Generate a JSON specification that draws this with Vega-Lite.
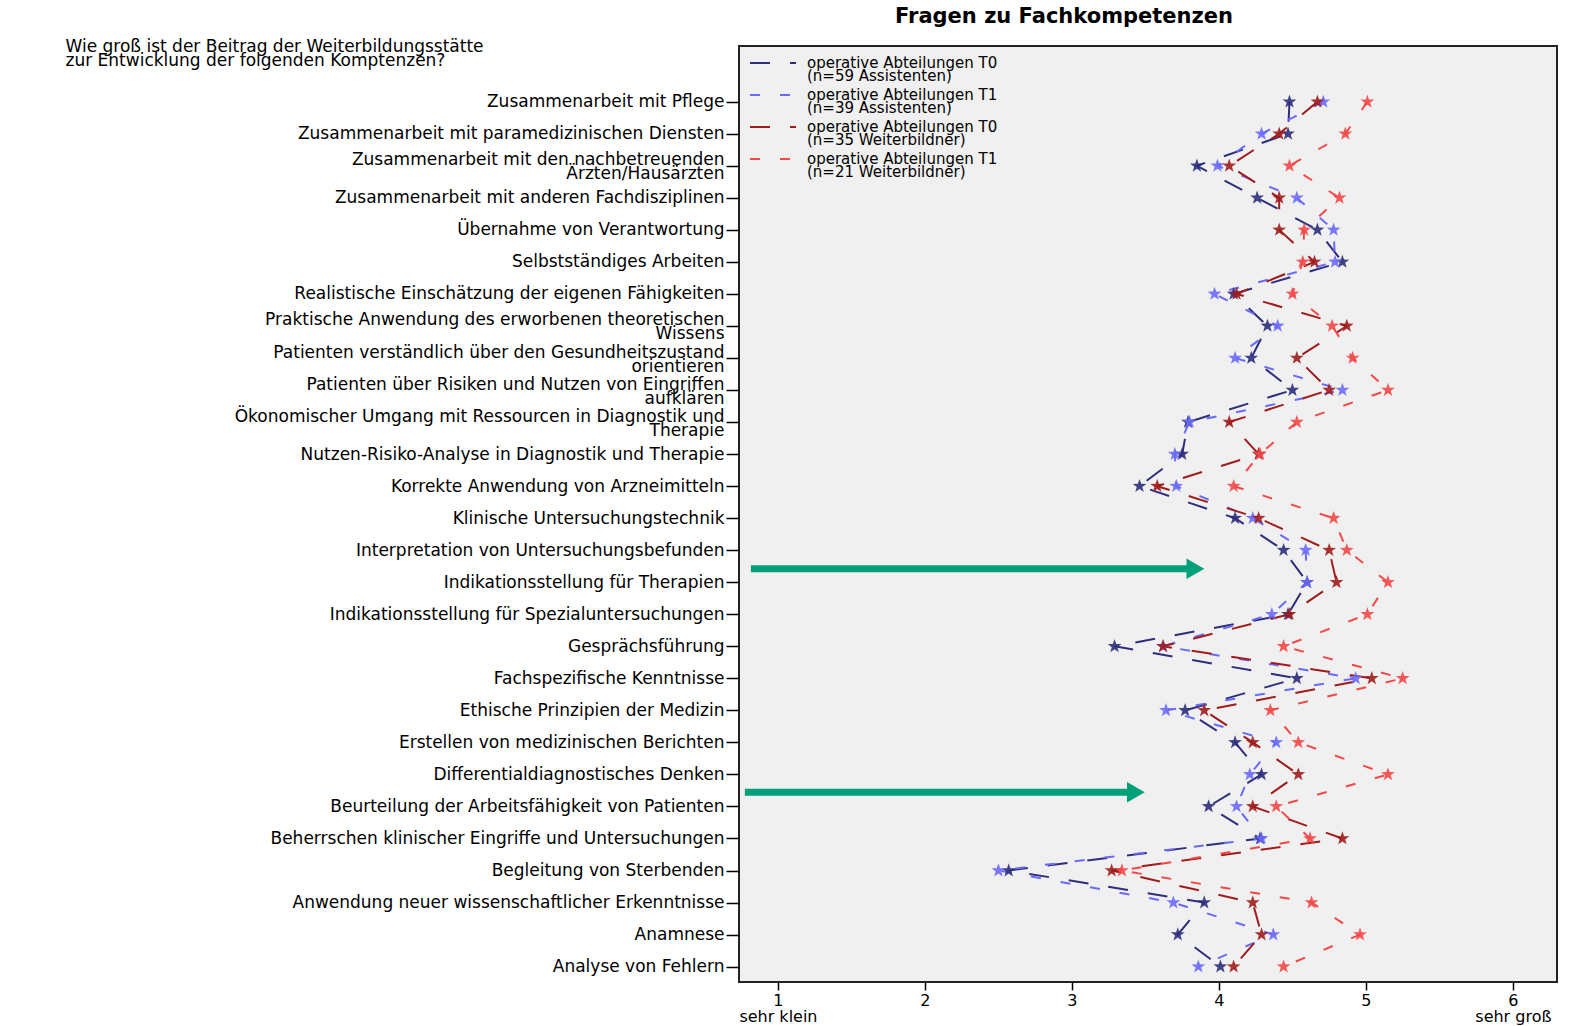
{
  "$schema": "https://vega.github.io/schema/vega-lite/v6.json",
  "width": 818,
  "height": 936,
  "autosize": {"type": "none"},
  "padding": {"left": 739, "top": 46, "right": 22, "bottom": 44},
  "background": "white",
  "params": [
    {"name": "ylabels", "value": [
      "Zusammenarbeit mit Pflege",
      "Zusammenarbeit mit paramedizinischen Diensten",
      "Zusammenarbeit mit den nachbetreuenden|Ärzten/Hausärzten",
      "Zusammenarbeit mit anderen Fachdisziplinen",
      "Übernahme von Verantwortung",
      "Selbstständiges Arbeiten",
      "Realistische Einschätzung der eigenen Fähigkeiten",
      "Praktische Anwendung des erworbenen theoretischen|Wissens",
      "Patienten verständlich über den Gesundheitszustand|orientieren",
      "Patienten über Risiken und Nutzen von Eingriffen|aufklären",
      "Ökonomischer Umgang mit Ressourcen in Diagnostik und|Therapie",
      "Nutzen-Risiko-Analyse in Diagnostik und Therapie",
      "Korrekte Anwendung von Arzneimitteln",
      "Klinische Untersuchungstechnik",
      "Interpretation von Untersuchungsbefunden",
      "Indikationsstellung für Therapien",
      "Indikationsstellung für Spezialuntersuchungen",
      "Gesprächsführung",
      "Fachspezifische Kenntnisse",
      "Ethische Prinzipien der Medizin",
      "Erstellen von medizinischen Berichten",
      "Differentialdiagnostisches Denken",
      "Beurteilung der Arbeitsfähigkeit von Patienten",
      "Beherrschen klinischer Eingriffe und Untersuchungen",
      "Begleitung von Sterbenden",
      "Anwendung neuer wissenschaftlicher Erkenntnisse",
      "Anamnese",
      "Analyse von Fehlern"
    ]}
  ],
  "title": {
    "text": "Fragen zu Fachkompetenzen",
    "anchor": "middle",
    "dx": -84,
    "offset": 10,
    "fontSize": 21,
    "font": "DejaVu Sans",
    "fontWeight": "bold",
    "color": "#000000"
  },
  "datasets": {
    "profile": [
      {"idx": 1, "series": "A0", "value": 4.48}, {"idx": 1, "series": "A1", "value": 4.71}, {"idx": 1, "series": "W0", "value": 4.67}, {"idx": 1, "series": "W1", "value": 5.01},
      {"idx": 2, "series": "A0", "value": 4.47}, {"idx": 2, "series": "A1", "value": 4.29}, {"idx": 2, "series": "W0", "value": 4.41}, {"idx": 2, "series": "W1", "value": 4.86},
      {"idx": 3, "series": "A0", "value": 3.85}, {"idx": 3, "series": "A1", "value": 3.99}, {"idx": 3, "series": "W0", "value": 4.07}, {"idx": 3, "series": "W1", "value": 4.48},
      {"idx": 4, "series": "A0", "value": 4.26}, {"idx": 4, "series": "A1", "value": 4.53}, {"idx": 4, "series": "W0", "value": 4.41}, {"idx": 4, "series": "W1", "value": 4.82},
      {"idx": 5, "series": "A0", "value": 4.67}, {"idx": 5, "series": "A1", "value": 4.78}, {"idx": 5, "series": "W0", "value": 4.41}, {"idx": 5, "series": "W1", "value": 4.58},
      {"idx": 6, "series": "A0", "value": 4.84}, {"idx": 6, "series": "A1", "value": 4.79}, {"idx": 6, "series": "W0", "value": 4.65}, {"idx": 6, "series": "W1", "value": 4.57},
      {"idx": 7, "series": "A0", "value": 4.10}, {"idx": 7, "series": "A1", "value": 3.97}, {"idx": 7, "series": "W0", "value": 4.12}, {"idx": 7, "series": "W1", "value": 4.50},
      {"idx": 8, "series": "A0", "value": 4.33}, {"idx": 8, "series": "A1", "value": 4.40}, {"idx": 8, "series": "W0", "value": 4.87}, {"idx": 8, "series": "W1", "value": 4.77},
      {"idx": 9, "series": "A0", "value": 4.22}, {"idx": 9, "series": "A1", "value": 4.11}, {"idx": 9, "series": "W0", "value": 4.53}, {"idx": 9, "series": "W1", "value": 4.91},
      {"idx": 10, "series": "A0", "value": 4.50}, {"idx": 10, "series": "A1", "value": 4.84}, {"idx": 10, "series": "W0", "value": 4.75}, {"idx": 10, "series": "W1", "value": 5.15},
      {"idx": 11, "series": "A0", "value": 3.79}, {"idx": 11, "series": "A1", "value": 3.80}, {"idx": 11, "series": "W0", "value": 4.07}, {"idx": 11, "series": "W1", "value": 4.53},
      {"idx": 12, "series": "A0", "value": 3.75}, {"idx": 12, "series": "A1", "value": 3.70}, {"idx": 12, "series": "W0", "value": 4.27}, {"idx": 12, "series": "W1", "value": 4.28},
      {"idx": 13, "series": "A0", "value": 3.46}, {"idx": 13, "series": "A1", "value": 3.71}, {"idx": 13, "series": "W0", "value": 3.58}, {"idx": 13, "series": "W1", "value": 4.10},
      {"idx": 14, "series": "A0", "value": 4.11}, {"idx": 14, "series": "A1", "value": 4.23}, {"idx": 14, "series": "W0", "value": 4.27}, {"idx": 14, "series": "W1", "value": 4.78},
      {"idx": 15, "series": "A0", "value": 4.44}, {"idx": 15, "series": "A1", "value": 4.59}, {"idx": 15, "series": "W0", "value": 4.75}, {"idx": 15, "series": "W1", "value": 4.87},
      {"idx": 16, "series": "A0", "value": 4.60}, {"idx": 16, "series": "A1", "value": 4.60}, {"idx": 16, "series": "W0", "value": 4.80}, {"idx": 16, "series": "W1", "value": 5.15},
      {"idx": 17, "series": "A0", "value": 4.47}, {"idx": 17, "series": "A1", "value": 4.36}, {"idx": 17, "series": "W0", "value": 4.48}, {"idx": 17, "series": "W1", "value": 5.01},
      {"idx": 18, "series": "A0", "value": 3.29}, {"idx": 18, "series": "A1", "value": 3.62}, {"idx": 18, "series": "W0", "value": 3.62}, {"idx": 18, "series": "W1", "value": 4.44},
      {"idx": 19, "series": "A0", "value": 4.53}, {"idx": 19, "series": "A1", "value": 4.93}, {"idx": 19, "series": "W0", "value": 5.04}, {"idx": 19, "series": "W1", "value": 5.25},
      {"idx": 20, "series": "A0", "value": 3.77}, {"idx": 20, "series": "A1", "value": 3.64}, {"idx": 20, "series": "W0", "value": 3.90}, {"idx": 20, "series": "W1", "value": 4.35},
      {"idx": 21, "series": "A0", "value": 4.11}, {"idx": 21, "series": "A1", "value": 4.39}, {"idx": 21, "series": "W0", "value": 4.23}, {"idx": 21, "series": "W1", "value": 4.54},
      {"idx": 22, "series": "A0", "value": 4.29}, {"idx": 22, "series": "A1", "value": 4.21}, {"idx": 22, "series": "W0", "value": 4.54}, {"idx": 22, "series": "W1", "value": 5.15},
      {"idx": 23, "series": "A0", "value": 3.93}, {"idx": 23, "series": "A1", "value": 4.12}, {"idx": 23, "series": "W0", "value": 4.23}, {"idx": 23, "series": "W1", "value": 4.39},
      {"idx": 24, "series": "A0", "value": 4.28}, {"idx": 24, "series": "A1", "value": 4.29}, {"idx": 24, "series": "W0", "value": 4.84}, {"idx": 24, "series": "W1", "value": 4.62},
      {"idx": 25, "series": "A0", "value": 2.57}, {"idx": 25, "series": "A1", "value": 2.50}, {"idx": 25, "series": "W0", "value": 3.27}, {"idx": 25, "series": "W1", "value": 3.34},
      {"idx": 26, "series": "A0", "value": 3.90}, {"idx": 26, "series": "A1", "value": 3.69}, {"idx": 26, "series": "W0", "value": 4.23}, {"idx": 26, "series": "W1", "value": 4.63},
      {"idx": 27, "series": "A0", "value": 3.72}, {"idx": 27, "series": "A1", "value": 4.37}, {"idx": 27, "series": "W0", "value": 4.29}, {"idx": 27, "series": "W1", "value": 4.96},
      {"idx": 28, "series": "A0", "value": 4.01}, {"idx": 28, "series": "A1", "value": 3.86}, {"idx": 28, "series": "W0", "value": 4.10}, {"idx": 28, "series": "W1", "value": 4.44}
    ],
    "arrows": [
      {"value": 0.816, "value2": 3.84, "idx": 15.58},
      {"value": 0.775, "value2": 3.435, "idx": 22.56}
    ]
  },
  "encoding": {
    "x": {
      "field": "value", "type": "quantitative",
      "scale": {"domain": [0.735, 6.3], "nice": false, "zero": false},
      "axis": {
        "title": null,
        "values": [1, 2, 3, 4, 5, 6],
        "format": "d",
        "grid": false,
        "domain": false,
        "tickSize": 8,
        "tickWidth": 1.5,
        "tickColor": "#000000",
        "labelFont": "DejaVu Sans",
        "labelFontSize": 16,
        "labelColor": "#000000",
        "labelPadding": 2,
        "labelLineHeight": 16,
        "labelFlush": false,
        "labelOverlap": false,
        "labelExpr": "datum.value == 1 ? ['1', 'sehr klein'] : datum.value == 6 ? ['6', 'sehr groß'] : datum.label"
      }
    },
    "y": {
      "field": "idx", "type": "quantitative",
      "scale": {"domain": [-0.74, 28.48], "reverse": true, "nice": false, "zero": false},
      "axis": {
        "title": ["Wie groß ist der Beitrag der Weiterbildungsstätte", "zur Entwicklung der folgenden Komptenzen?"],
        "titleAngle": 0,
        "titleAlign": "left",
        "titleBaseline": "top",
        "titleX": -674,
        "titleY": -8,
        "titleFont": "DejaVu Sans",
        "titleFontSize": 17,
        "titleFontWeight": "normal",
        "titleLineHeight": 14,
        "titleColor": "#000000",
        "values": [1, 2, 3, 4, 5, 6, 7, 8, 9, 10, 11, 12, 13, 14, 15, 16, 17, 18, 19, 20, 21, 22, 23, 24, 25, 26, 27, 28],
        "grid": false,
        "domain": false,
        "tickSize": 13,
        "tickWidth": 1.5,
        "tickColor": "#000000",
        "labelFont": "DejaVu Sans",
        "labelFontSize": 17,
        "labelColor": "#000000",
        "labelPadding": 2,
        "labelLineHeight": 14,
        "labelOffset": {"condition": {"test": "indexof(ylabels[datum.value - 1], '|') >= 0", "value": -6}, "value": 0},
        "labelLimit": 900,
        "labelFlush": false,
        "labelOverlap": false,
        "labelExpr": "split(ylabels[datum.value - 1], '|')"
      }
    }
  },
  "layer": [
    {
      "data": {"name": "profile"},
      "mark": {"type": "line", "strokeWidth": 2, "strokeCap": "butt"},
      "encoding": {
        "color": {
          "field": "series", "type": "nominal",
          "scale": {"domain": ["A0", "A1", "W0", "W1"], "range": ["#2E2E7C", "#6A6AF8", "#A01C1C", "#F44848"]},
          "legend": {
            "title": null,
            "orient": "none",
            "legendX": 23,
            "legendY": 6,
            "symbolType": "M-2.3,0H2.3",
            "symbolSize": 400,
            "symbolStrokeWidth": 2,
            "labelFont": "DejaVu Sans",
            "labelFontSize": 15,
            "labelColor": "#000000",
            "labelOffset": 23,
            "labelLimit": 500,
            "rowPadding": 0,
            "labelExpr": "datum.label == 'A0' ? ['operative Abteilungen T0', '(n=59 Assistenten)'] : datum.label == 'A1' ? ['operative Abteilungen T1', '(n=39 Assistenten)'] : datum.label == 'W0' ? ['operative Abteilungen  T0', '(n=35 Weiterbildner)'] : ['operative Abteilungen T1', '(n=21 Weiterbildner)']"
          }
        },
        "strokeDash": {
          "field": "series", "type": "nominal",
          "scale": {"domain": ["A0", "A1", "W0", "W1"], "range": [[20, 20], [10, 20], [20, 20], [10, 20]]},
          "legend": {
            "title": null,
            "orient": "none",
            "legendX": 23,
            "legendY": 6,
            "symbolType": "M-2.3,0H2.3",
            "symbolSize": 400,
            "symbolStrokeWidth": 2,
            "labelFont": "DejaVu Sans",
            "labelFontSize": 15,
            "labelColor": "#000000",
            "labelOffset": 23,
            "labelLimit": 500,
            "rowPadding": 0,
            "labelExpr": "datum.label == 'A0' ? ['operative Abteilungen T0', '(n=59 Assistenten)'] : datum.label == 'A1' ? ['operative Abteilungen T1', '(n=39 Assistenten)'] : datum.label == 'W0' ? ['operative Abteilungen  T0', '(n=35 Weiterbildner)'] : ['operative Abteilungen T1', '(n=21 Weiterbildner)']"
          }
        },
        "order": {"field": "idx", "type": "quantitative"}
      }
    },
    {
      "data": {"name": "profile"},
      "mark": {
        "type": "point",
        "shape": "M0,-1L0.235,-0.324L0.951,-0.309L0.38,0.124L0.588,0.809L0,0.4L-0.588,0.809L-0.38,0.124L-0.951,-0.309L-0.235,-0.324Z",
        "filled": true,
        "size": 210,
        "opacity": 0.9
      },
      "encoding": {
        "fill": {
          "field": "series", "type": "nominal",
          "scale": {"domain": ["A0", "A1", "W0", "W1"], "range": ["#2E2E7C", "#6A6AF8", "#A01C1C", "#F44848"]},
          "legend": null
        }
      }
    },
    {
      "data": {"name": "arrows"},
      "mark": {"type": "rule", "color": "#00A07A", "strokeWidth": 7, "strokeCap": "butt"},
      "encoding": {
        "x2": {"field": "value2"}
      }
    },
    {
      "data": {"name": "arrows"},
      "mark": {"type": "point", "shape": "triangle-right", "filled": true, "color": "#00A07A", "size": 420, "opacity": 1},
      "encoding": {
        "x": {
          "field": "value2", "type": "quantitative",
          "scale": {"domain": [0.735, 6.3], "nice": false, "zero": false},
          "axis": {
            "title": null,
            "values": [1, 2, 3, 4, 5, 6],
            "format": "d",
            "grid": false,
            "domain": false,
            "tickSize": 8,
            "tickWidth": 1.5,
            "tickColor": "#000000",
            "labelFont": "DejaVu Sans",
            "labelFontSize": 16,
            "labelColor": "#000000",
            "labelPadding": 2,
            "labelLineHeight": 16,
            "labelFlush": false,
            "labelOverlap": false,
            "labelExpr": "datum.value == 1 ? ['1', 'sehr klein'] : datum.value == 6 ? ['6', 'sehr groß'] : datum.label"
          }
        }
      }
    }
  ],
  "config": {
    "view": {"fill": "#F0F0F0", "stroke": "#222222", "strokeWidth": 2},
    "axis": {"labelOverlap": false},
    "style": {"guide-label": {"lineHeight": 13}}
  }
}
